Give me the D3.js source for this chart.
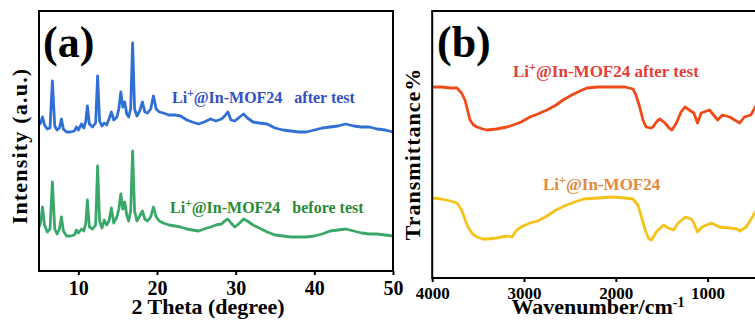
<!DOCTYPE html>
<html><head><meta charset="utf-8">
<script src="https://cdn.jsdelivr.net/npm/d3@7"></script>
<style>
html,body{margin:0;padding:0;background:#fff;}
svg{display:block;}
text{font-family:"Liberation Serif","Times New Roman",serif;font-weight:bold;white-space:pre;}
</style></head>
<body>
<svg id="c" width="755" height="320"></svg>
<script>
// ---------- Panel (a): XRD ----------
const xrdAngle = [5.0,5.2,5.45,5.7,6.05,6.4,6.7,7.0,7.3,7.6,7.85,8.1,8.5,9.0,9.5,9.75,10.0,10.4,10.7,10.95,11.15,11.4,11.8,12.2,12.45,12.7,13.0,13.3,13.6,13.9,14.2,14.5,14.9,15.15,15.4,15.65,15.9,16.15,16.4,16.65,16.9,17.15,17.45,17.8,18.15,18.45,18.8,19.2,19.55,19.9,20.3,20.8,21.5,22.3,23.0,23.8,24.5,25.3,26.0,26.8,27.5,28.2,28.6,29.0,29.4,29.9,30.5,31.0,31.5,32.2,33.0,34.0,35.0,36.0,37.0,38.0,39.0,40.0,41.0,42.0,43.0,44.0,45.0,46.0,47.0,48.0,49.0,50.0];
const xrdAfter = [146,148,154,146,142,143,190,145,141,143,152,142,139,139,140,144,141,147,143,150,165,147,144,148,195,150,145,148,146,152,159,151,154,162,179,164,169,157,154,162,228,162,155,160,169,159,158,162,175,162,159,158,156,156,155,151,149,147,149,152,150,152,155,159,151,150,154,157,153,149,148,147,143,141,140,139,139,141,143,144,145,147,145,144,144,142,141,139];
const xrdBefore = [44,48,64,46,39,42,89,42,37,42,54,40,35,35,36,41,38,42,40,48,71,44,42,46,105,50,43,51,46,50,63,48,54,62,77,62,69,56,50,60,120,60,50,55,60,52,50,54,64,54,50,48,46,45,44,42,41,40,42,44,46,47,50,52,48,44,48,52,50,46,43,39,36,35,34,34,34,35,37,40,41,42,40,38,37,37,36,35];
const xrdTicks = [10,20,30,40,50];

// ---------- Panel (b): FT-IR ----------
const irAfterWave = [3995,3900,3800,3730,3680,3643,3610,3588,3550,3512,3450,3403,3300,3185,3120,3030,2935,2850,2750,2650,2575,2480,2390,2314,2200,2031,1900,1813,1780,1740,1704,1670,1620,1595,1550,1519,1464,1420,1388,1340,1290,1247,1200,1150,1110,1070,980,890,840,760,650,600,530,480,420];
const irAfterT = [95.5,95.5,95,95,92.5,89,83,79,76.5,75.5,74.5,74,74.5,75.5,76.5,78,80.5,82,84,86.5,89,91.5,93.5,95,95.5,95.5,95.5,94.5,91.5,85.5,79,75.5,75,75.5,78.5,79.5,77.5,75,74,77.5,83,85.5,84,82.5,77.5,82.5,84,79,81.5,80.5,77.5,80.5,81.5,85.5,91.5];
const irBeforeWave = [3995,3900,3800,3730,3680,3640,3610,3560,3512,3450,3400,3300,3185,3130,3080,3030,2935,2850,2750,2650,2560,2450,2350,2200,2031,1900,1813,1760,1720,1680,1640,1610,1560,1480,1430,1370,1320,1240,1180,1150,1110,1060,960,870,760,680,650,580,520,480,420];
const irBeforeT = [40,39.5,38.5,37.5,34,29,25.5,22,20.5,19.5,19.5,20,21,20.5,24,25.5,27.5,28.5,31,34,36,38,39.5,40,40.5,40,39.5,36.5,30.5,24,19.5,19,23,26.5,25,24,27.5,30.5,29.5,27.5,23,25.5,27.5,25.5,25,24.5,23.5,25.5,30,33,36.5];
const irTicks = [4000,3000,2000,1000];

const svg = d3.select("#c");
svg.append("rect").attr("width",755).attr("height",320).attr("fill","#fff");

// ===== Panel (a) =====
const ax = d3.scaleLinear().domain([5,50]).range([39,393]);
const ay = d3.scaleLinear().domain([0,260]).range([271,11]);
const gA = svg.append("g");
const lineA = d3.line().x((d,i)=>ax(xrdAngle[i])).y(d=>ay(d)).curve(d3.curveLinear);
gA.append("path").datum(xrdBefore).attr("d",lineA).attr("fill","none")
  .attr("stroke","#3aa86a").attr("stroke-width",2.8).attr("stroke-linejoin","round");
gA.append("path").datum(xrdAfter).attr("d",lineA).attr("fill","none")
  .attr("stroke","#2f6fd6").attr("stroke-width",2.8).attr("stroke-linejoin","round");
gA.append("rect").attr("x",ax(5)).attr("y",ay(260)).attr("width",ax(50)-ax(5)).attr("height",ay(0)-ay(260))
  .attr("fill","none").attr("stroke","#000").attr("stroke-width",2);
const axA = gA.append("g").attr("transform",`translate(0,${ay(0)})`)
  .call(d3.axisBottom(ax).tickValues(xrdTicks).tickSize(4).tickSizeOuter(0).tickPadding(6));
axA.select(".domain").remove();
axA.selectAll("line").attr("stroke","#000").attr("stroke-width",2);
axA.selectAll("text").attr("font-size",20).attr("fill","#000")
  .style("font-family",'"Liberation Serif",serif').style("font-weight","bold");

gA.append("text").attr("x",43).attr("y",57).attr("font-size",44).attr("fill","#000").text("(a)");
gA.append("text").attr("x",208).attr("y",314).attr("text-anchor","middle").attr("font-size",22).attr("fill","#000").text("2 Theta (degree)");
gA.append("text").attr("transform","translate(27,146) rotate(-90)").attr("text-anchor","middle")
  .attr("font-size",22).attr("letter-spacing",1.2).attr("fill","#000").text("Intensity (a.u.)");

function liLabel(g, x, y, size, color, rest){
  const t = g.append("text").attr("x",x).attr("y",y).attr("font-size",size).attr("fill",color);
  t.append("tspan").text("Li");
  t.append("tspan").attr("dy",-size*0.38).attr("font-size",size*0.72).text("+");
  t.append("tspan").attr("dy",size*0.38).text("@In-MOF24" + rest);
  return t;
}
liLabel(gA,172,103,16,"#3150c8","   after test");
liLabel(gA,170,213,16,"#2a8a35","   before test");

// ===== Panel (b) =====
const bx = d3.scaleLinear().domain([4000,400]).range([432.2,762.7]);
const by = d3.scaleLinear().domain([0,133.5]).range([278,11]);
const gB = svg.append("g");
gB.append("path").datum(irAfterT).attr("d",d3.line().x((d,i)=>bx(irAfterWave[i])).y(d=>by(d)))
  .attr("fill","none").attr("stroke","#f04a16").attr("stroke-width",2.8).attr("stroke-linejoin","round");
gB.append("path").datum(irBeforeT).attr("d",d3.line().x((d,i)=>bx(irBeforeWave[i])).y(d=>by(d)))
  .attr("fill","none").attr("stroke","#f5c21a").attr("stroke-width",2.8).attr("stroke-linejoin","round");
gB.append("rect").attr("x",bx(4000)).attr("y",by(133.5)).attr("width",bx(400)-bx(4000)+4).attr("height",by(0)-by(133.5))
  .attr("fill","none").attr("stroke","#000").attr("stroke-width",2);
const axB = gB.append("g").attr("transform",`translate(0,${by(0)})`)
  .call(d3.axisBottom(bx).tickValues(irTicks).tickSize(4).tickSizeOuter(0).tickPadding(5).tickFormat(d3.format("d")));
axB.select(".domain").remove();
axB.selectAll("line").attr("stroke","#000").attr("stroke-width",2);
axB.selectAll("text").attr("font-size",17).attr("fill","#000")
  .style("font-family",'"Liberation Serif",serif').style("font-weight","bold");

gB.append("text").attr("x",437).attr("y",57).attr("font-size",44).attr("fill","#000").text("(b)");
const wl = gB.append("text").attr("x",598).attr("y",314).attr("text-anchor","middle").attr("font-size",22).attr("fill","#000");
wl.append("tspan").text("Wavenumber/cm");
wl.append("tspan").attr("dy",-7).attr("font-size",14).text("-1");
gB.append("text").attr("transform","translate(420,154) rotate(-90)").attr("text-anchor","middle")
  .attr("font-size",22).attr("letter-spacing",1).attr("fill","#000").text("Transmittance%");

liLabel(gB,513,77,17,"#de4038"," after test");
liLabel(gB,543,190,17,"#e38a3a","");
</script>
</body></html>
